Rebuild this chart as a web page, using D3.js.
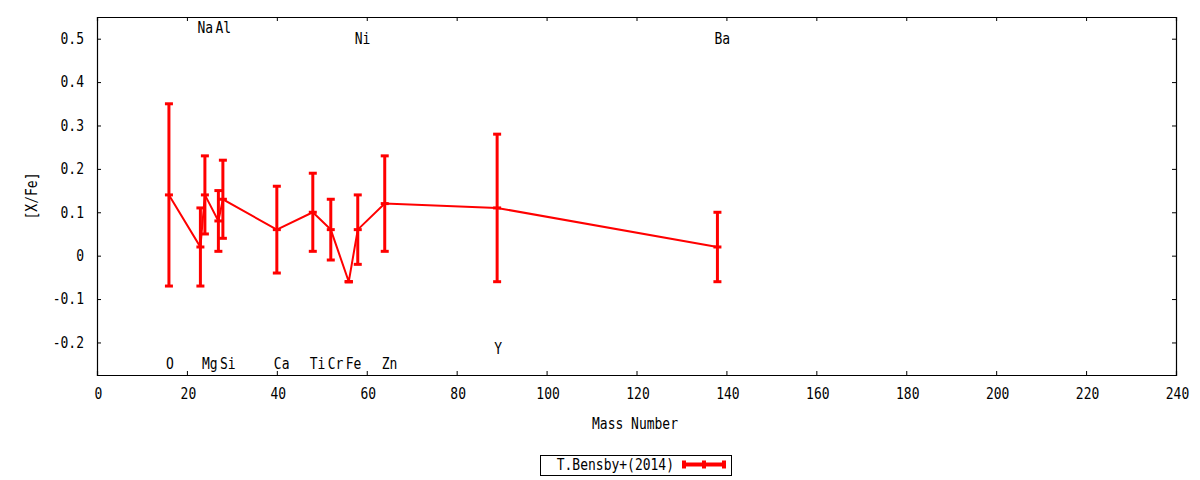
<!DOCTYPE html>
<html>
<head>
<meta charset="utf-8">
<script src="https://cdn.jsdelivr.net/npm/d3@7"></script>
<style>
  body { margin: 0; background: #fff; }
  text { font-family: "DejaVu Sans Mono", monospace; font-size: 13px; fill: #000; }
</style>
</head>
<body>
<div id="chart"></div>
<script>
var width = 1200, height = 480;
// plot area (gnuplot border)
var margin = {top: 17, right: 24, bottom: 105, left: 97};

// elements, mass numbers and [X/Fe] with errors
var elements = ["O", "Na", "Mg", "Al", "Si", "Ca", "Ti", "Cr", "Fe", "Ni", "Zn", "Y", "Ba"];
var massNumber = [16, 23, 24, 27, 28, 40, 48, 52, 56, 58, 64, 89, 138];
var xfe = [0.14, 0.02, 0.14, 0.08, 0.13, 0.06, 0.10, 0.06, -0.06, 0.06, 0.12, 0.11, 0.02];
var xfeErr = [0.21, 0.09, 0.09, 0.07, 0.09, 0.10, 0.09, 0.07, 0.00, 0.08, 0.11, 0.17, 0.08];
// element labels drawn at [X/Fe] level in data units
var labelY = [-0.25, 0.525, -0.25, 0.525, -0.25, -0.25, -0.25, -0.25, -0.25, 0.50, -0.25, -0.215, 0.50];

var xTicks = [0, 20, 40, 60, 80, 100, 120, 140, 160, 180, 200, 220, 240];
var yTicks = [-0.2, -0.1, 0, 0.1, 0.2, 0.3, 0.4, 0.5];
var seriesName = "T.Bensby+(2014)";

var data = elements.map(function(el, i) {
    return {el: el, x: massNumber[i], y: xfe[i], err: xfeErr[i], ly: labelY[i]};
});

var x = d3.scaleLinear().domain([0, 240]).range([margin.left, width - margin.right]);
var y = d3.scaleLinear().domain([-0.275, 0.55]).range([height - margin.bottom, margin.top]);

var svg = d3.select("#chart")
    .append("svg")
        .attr("width", width)
        .attr("height", height);

// gnuplot's font is taller and narrower than DejaVu Mono, so stretch text a bit
function label(g, px, py, anchor, str, rot) {
    return g.append("text")
        .attr("transform", "translate(" + px + "," + py + ")" + (rot ? " rotate(" + rot + ")" : "") + " scale(1,1.16)")
        .attr("dy", "0.35em")
        .attr("text-anchor", anchor)
        .text(str);
}

// axes with inward ticks, mirrored on top/right
var tickLen = 4;
svg.append("g")
    .attr("transform", "translate(0," + (height - margin.bottom) + ")")
    .call(d3.axisBottom(x).tickValues(xTicks).tickSize(-tickLen).tickFormat(""));
svg.append("g")
    .attr("transform", "translate(0," + margin.top + ")")
    .call(d3.axisTop(x).tickValues(xTicks).tickSize(-tickLen).tickFormat(""));
svg.append("g")
    .attr("transform", "translate(" + margin.left + ",0)")
    .call(d3.axisLeft(y).tickValues(yTicks).tickSize(-tickLen).tickFormat(""));
svg.append("g")
    .attr("transform", "translate(" + (width - margin.right) + ",0)")
    .call(d3.axisRight(y).tickValues(yTicks).tickSize(-tickLen).tickFormat(""));

svg.selectAll(".domain").attr("stroke", "#000").attr("stroke-width", 1.2);
svg.selectAll(".tick line").attr("stroke", "#000");

// tick labels
var tl = svg.append("g");
xTicks.forEach(function(t) { label(tl, x(t) + 1.5, 394, "middle", d3.format("d")(t)); });
yTicks.forEach(function(t) {
    var s = Math.abs(t) < 1e-9 ? "0" : d3.format(".1f")(t).replace("−", "-");
    label(tl, margin.left - 13, y(t), "end", s);
});

// axis titles
label(svg, 635, 424, "middle", "Mass Number");
label(svg, 32, 196, "middle", "[X/Fe]", -90);

var red = "#ff0000";

// connecting line
var line = d3.line().x(function(d) { return x(d.x); }).y(function(d) { return y(d.y); });
svg.append("path")
    .datum(data)
    .attr("d", line)
    .attr("fill", "none")
    .attr("stroke", red)
    .attr("stroke-width", 2);

// error bars
var capW = 4;
var bars = svg.append("g").attr("stroke", red).attr("stroke-width", 3);
bars.selectAll(".bar")
    .data(data)
    .join("line")
    .attr("x1", function(d) { return x(d.x); })
    .attr("x2", function(d) { return x(d.x); })
    .attr("y1", function(d) { return y(d.y - d.err); })
    .attr("y2", function(d) { return y(d.y + d.err); });
bars.selectAll(".capLo")
    .data(data)
    .join("line")
    .attr("x1", function(d) { return x(d.x) - capW; })
    .attr("x2", function(d) { return x(d.x) + capW; })
    .attr("y1", function(d) { return y(d.y - d.err); })
    .attr("y2", function(d) { return y(d.y - d.err); });
bars.selectAll(".capHi")
    .data(data)
    .join("line")
    .attr("x1", function(d) { return x(d.x) - capW; })
    .attr("x2", function(d) { return x(d.x) + capW; })
    .attr("y1", function(d) { return y(d.y + d.err); })
    .attr("y2", function(d) { return y(d.y + d.err); });
bars.selectAll(".mid")
    .data(data)
    .join("line")
    .attr("x1", function(d) { return x(d.x) - capW; })
    .attr("x2", function(d) { return x(d.x) + capW; })
    .attr("y1", function(d) { return y(d.y); })
    .attr("y2", function(d) { return y(d.y); });

// element labels
var el = svg.append("g");
data.forEach(function(d) { label(el, x(d.x) - 3, y(d.ly), "start", d.el); });

// legend
var lg = svg.append("g");
lg.append("rect")
    .attr("x", 540.5).attr("y", 455.5).attr("width", 191).attr("height", 20)
    .attr("fill", "none").attr("stroke", "#000").attr("stroke-width", 1);
label(lg, 674, 465, "end", seriesName);
var lgS = lg.append("g").attr("stroke", red).attr("stroke-width", 4);
lgS.append("line").attr("x1", 684).attr("x2", 724).attr("y1", 464.5).attr("y2", 464.5);
[684, 704, 724].forEach(function(px) {
    lgS.append("line").attr("x1", px).attr("x2", px).attr("y1", 460.5).attr("y2", 468.5);
});
</script>
</body>
</html>
